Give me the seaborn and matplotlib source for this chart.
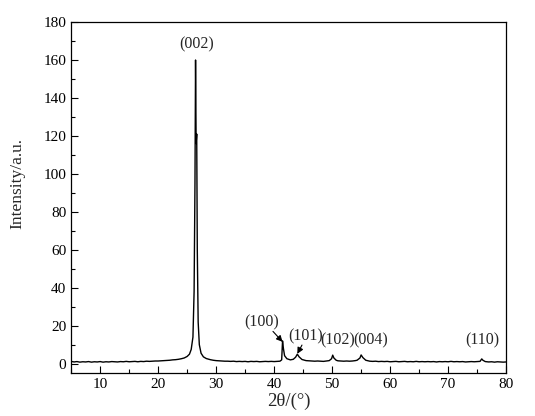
import matplotlib
matplotlib.use("Agg")
import matplotlib.pyplot as plt
from matplotlib.ticker import MultipleLocator
import seaborn as sns
import pandas as pd

two_theta = [5, 5.5, 6, 6.5, 7, 7.5, 8, 8.5, 9, 9.5, 10, 10.5, 11, 11.5, 12, 12.5, 13, 13.5,
             14, 14.5, 15, 15.5, 16, 16.5, 17, 17.5, 18, 18.5, 19, 19.5, 20, 20.5, 21, 21.5,
             22, 22.5, 23, 23.5, 24, 24.5, 25, 25.4, 25.7, 26.0, 26.2, 26.35, 26.45, 26.55,
             26.65, 26.75, 26.9, 27.1, 27.4, 27.8, 28.3, 29, 29.5, 30, 30.5, 31, 31.5, 32,
             32.5, 33, 33.5, 34, 34.5, 35, 35.5, 36, 36.5, 37, 37.5, 38, 38.5, 39, 39.5, 40,
             40.5, 41.0, 41.3, 41.45, 41.6, 41.8, 42.2, 42.8, 43.3, 43.7, 44.0, 44.3, 44.8,
             45.5, 46, 46.5, 47, 47.5, 48, 48.5, 49, 49.5, 49.9, 50.1, 50.3, 50.7, 51, 51.5,
             52, 52.5, 53, 53.5, 54, 54.3, 54.8, 55.0, 55.3, 55.8, 56.5, 57, 57.5, 58, 58.5,
             59, 59.5, 60, 60.5, 61, 61.5, 62, 62.5, 63, 63.5, 64, 64.5, 65, 65.5, 66, 66.5,
             67, 67.5, 68, 68.5, 69, 69.5, 70, 70.5, 71, 71.5, 72, 72.5, 73, 73.5, 74, 74.5,
             75, 75.5, 75.8, 76.0, 76.4, 77, 77.5, 78, 78.5, 79, 79.5, 80]
intensity = [1.2, 0.9, 1.1, 0.8, 1.0, 0.9, 1.1, 0.8, 1.0, 0.9, 1.1, 0.8, 1.0, 0.9, 1.1, 1.0, 0.9, 1.1,
             1.0, 1.2, 1.0, 1.1, 1.2, 1.0, 1.2, 1.1, 1.3, 1.2, 1.3, 1.4, 1.4, 1.5, 1.6, 1.7,
             1.8, 2.0, 2.1, 2.3, 2.6, 3.0, 3.8, 5.0, 7.5, 14, 38, 95, 160, 116,
             121, 60, 22, 10, 5.5, 3.6, 2.7, 2.1, 1.8, 1.6, 1.5, 1.4, 1.3, 1.3,
             1.2, 1.3, 1.1, 1.2, 1.1, 1.2, 1.0, 1.2, 1.1, 1.2, 1.0, 1.1, 1.2, 1.1, 1.2, 1.1,
             1.2, 1.3, 2.0, 12, 8, 4.2, 2.6, 2.0, 2.3, 3.4, 5.0, 3.6, 2.2,
             1.6, 1.5, 1.4, 1.3, 1.4, 1.3, 1.2, 1.4, 1.6, 2.6, 4.5, 3.0, 1.8, 1.5, 1.4,
             1.3, 1.4, 1.3, 1.4, 1.6, 1.8, 3.0, 4.6, 3.2, 1.8, 1.3, 1.2, 1.3, 1.1, 1.2,
             1.1, 1.2, 1.0, 1.1, 1.2, 1.0, 1.1, 1.2, 1.0, 1.1, 1.0, 1.2, 1.0, 1.1, 1.0, 1.1,
             1.0, 1.1, 0.9, 1.1, 1.0, 1.1, 1.0, 1.2, 1.0, 1.1, 1.0, 1.1, 0.9, 1.0, 1.1, 1.0,
             1.1, 1.2, 2.5, 1.8, 1.1, 0.9, 1.0, 0.8, 1.0, 0.9, 0.8, 0.9]

peak_labels = ["(002)", "(100)", "(101)", "(102)", "(004)", "(110)"]
label_x = [26.6, 37.9, 45.4, 50.9, 56.6, 75.9]
label_y = [168, 21.5, 14.5, 12, 12, 12.5]
arrow_tip_x = [None, 41.45, 44.0, None, None, None]
arrow_tip_y = [None, 11.5, 5.2, None, None, None]
arrow_tail_x = [None, 39.8, 44.8, None, None, None]
arrow_tail_y = [None, 17, 9.8, None, None, None]

sns.set_style("ticks")
plt.rcParams["font.family"] = ["Liberation Serif", "DejaVu Serif"]
plt.rcParams["mathtext.fontset"] = "stix"

fig = plt.figure(figsize=(5.35, 4.16), dpi=100)
ax = fig.add_axes([0.133, 0.103, 0.813, 0.844])

df = pd.DataFrame({"2theta": two_theta, "I": intensity})
sns.lineplot(data=df, x="2theta", y="I", ax=ax, color="black", linewidth=1.0)

ax.set_xlim(5, 80)
ax.set_ylim(-5, 180)
ax.xaxis.set_major_locator(MultipleLocator(10))
ax.xaxis.set_minor_locator(MultipleLocator(5))
ax.yaxis.set_major_locator(MultipleLocator(20))
ax.yaxis.set_minor_locator(MultipleLocator(10))
ax.tick_params(which="both", direction="in", top=False, right=False, labelsize=11,
               colors="black", width=0.8)
ax.tick_params(which="major", length=5)
ax.tick_params(which="minor", length=3)
for s in ax.spines.values():
    s.set_linewidth(0.9)
    s.set_color("black")

ax.set_xlabel("2θ/(°)", fontsize=13.5, labelpad=1)
ax.set_ylabel("Intensity/a.u.", fontsize=12.5)
ax.yaxis.set_label_coords(-0.105, 0.54)

for i, lab in enumerate(peak_labels):
    ax.text(label_x[i], label_y[i], lab, ha="center", va="center", fontsize=11.5)
    if arrow_tip_x[i] is not None:
        ax.annotate("", xy=(arrow_tip_x[i], arrow_tip_y[i]),
                    xytext=(arrow_tail_x[i], arrow_tail_y[i]),
                    arrowprops=dict(arrowstyle="-|>", color="black", lw=0.8,
                                    mutation_scale=9, shrinkA=0, shrinkB=0))

fig.savefig("out.png", dpi=100)
